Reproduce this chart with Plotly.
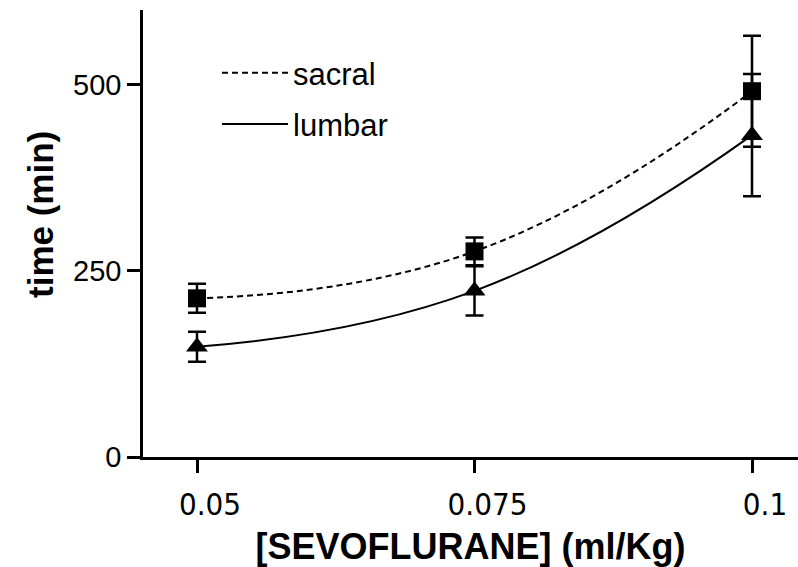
import plotly.graph_objects as go

# ---- data ----
dose = [0.05, 0.075, 0.1]
sacral_mean = [213, 276, 491]
sacral_err = [19.5, 18.5, 74.5]
lumbar_mean = [148, 223, 432]
lumbar_err = [20, 33, 82]

x_ticks = [0.05, 0.075, 0.1]
x_ticktext = ["0.05", "0.075", "0.1"]
y_ticks = [0, 250, 500]
y_ticktext = ["0", "250", "500"]

series_names = ["sacral", "lumbar"]
x_title = "[SEVOFLURANE] (ml/Kg)"
y_title = "time (min)"

W, H = 798, 567
L, R, T, B = 143, 0, 10, 110

fig = go.Figure()

# curves (in legend)
fig.add_trace(go.Scatter(
    x=dose, y=sacral_mean, mode="lines", name=series_names[0],
    line=dict(color="black", width=2, dash="6px,4px", shape="spline", smoothing=1.3),
    legendgroup="a"))
fig.add_trace(go.Scatter(
    x=dose, y=lumbar_mean, mode="lines", name=series_names[1],
    line=dict(color="black", width=2, shape="spline", smoothing=1.3),
    legendgroup="b"))

# markers with error bars
fig.add_trace(go.Scatter(
    x=dose, y=sacral_mean, mode="markers", showlegend=False,
    marker=dict(symbol="square", size=18, color="black"),
    error_y=dict(type="data", array=sacral_err, visible=True, color="black",
                 thickness=2.5, width=9)))
fig.add_trace(go.Scatter(
    x=dose, y=lumbar_mean, mode="markers", showlegend=False,
    marker=dict(symbol="triangle-up", size=19, color="black"),
    error_y=dict(type="data", array=lumbar_err, visible=True, color="black",
                 thickness=2.5, width=9)))

fig.update_layout(
    width=W, height=H,
    margin=dict(l=L, r=R, t=T, b=B, autoexpand=False),
    paper_bgcolor="white", plot_bgcolor="white",
    font=dict(family="Liberation Sans, Arial, sans-serif", color="black"),
    legend=dict(
        x=(217 - L) / (W - L - R), y=1 - (46 - T) / (H - T - B),
        xanchor="left", yanchor="top",
        bgcolor="rgba(0,0,0,0)", borderwidth=0,
        font=dict(family="Liberation Sans, Arial, sans-serif", size=31, color="black"),
        itemwidth=66, traceorder="grouped", tracegroupgap=8,
    ),
    xaxis=dict(
        range=[0.045135, 0.104144], automargin=False,
        tickmode="array", tickvals=x_ticks, ticktext=x_ticktext,
        ticks="outside", ticklen=13, tickwidth=2.5, tickcolor="black",
        showline=True, linewidth=2.5, linecolor="black",
        showgrid=False, zeroline=False,
        tickfont=dict(family="DejaVu Sans Condensed, DejaVu Sans, sans-serif", size=31, color="black"),
        ticklabelshift=13, ticklabelstandoff=5,
        title=dict(text="<b>" + x_title + "</b>", standoff=14,
                   font=dict(family="Liberation Sans, Arial, sans-serif", size=36, color="black")),
    ),
    yaxis=dict(
        range=[0, 600], automargin=False,
        tickmode="array", tickvals=y_ticks, ticktext=y_ticktext,
        ticks="outside", ticklen=13, tickwidth=2.5, tickcolor="black",
        showline=True, linewidth=2.5, linecolor="black",
        showgrid=False, zeroline=False,
        tickfont=dict(family="Liberation Sans, Arial, sans-serif", size=29, color="black"),
    ),
)

fig.add_annotation(
    text="<b>" + y_title + "</b>", textangle=-90,
    xref="paper", yref="paper",
    x=(40 - L) / (W - L - R), y=(457 - 215) / (H - T - B),
    xanchor="center", yanchor="middle", showarrow=False,
    font=dict(family="Liberation Sans, Arial, sans-serif", size=35, color="black"),
)

fig.write_html(
    "out.html",
    config={"displayModeBar": False},
    post_script="document.body.style.margin='0';document.body.style.overflow='hidden';",
)
